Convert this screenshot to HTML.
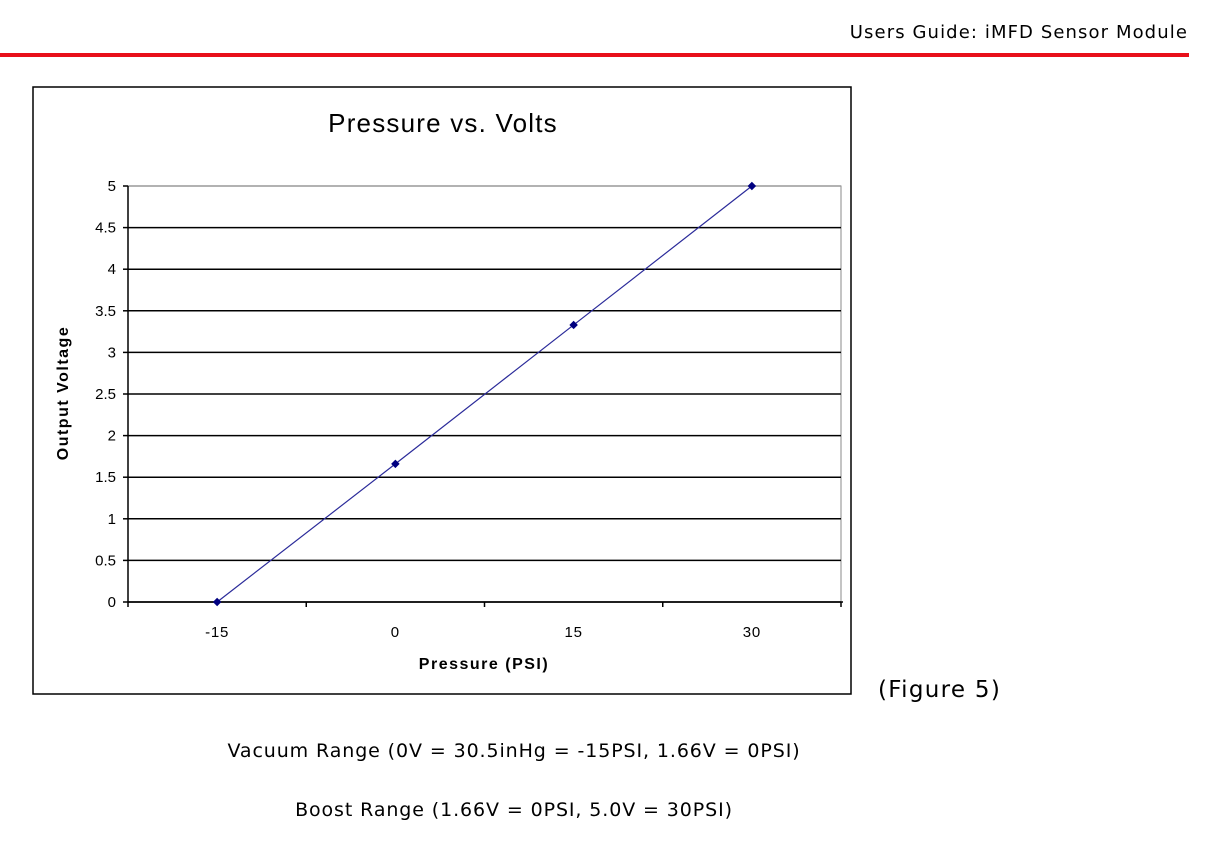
<!DOCTYPE html>
<html><head><meta charset="utf-8">
<style>
body{margin:0;width:1205px;height:845px;background:#fff;position:relative;overflow:hidden;font-family:"DejaVu Sans","Liberation Sans",sans-serif;}
.t{position:absolute;white-space:nowrap;color:#000;}
</style></head>
<body>
<div class="t" style="right:17px;top:22px;font-size:18px;letter-spacing:1.1px;">Users Guide: iMFD Sensor Module</div>
<div style="position:absolute;left:0;top:53px;width:1189px;height:4px;background:#e8101a;"></div>
<svg id="chart" width="1205" height="845" style="position:absolute;left:0;top:0" xmlns="http://www.w3.org/2000/svg" font-family="Liberation Sans, Arial, sans-serif"></svg>
<div class="t" style="left:878px;top:677px;font-size:23px;letter-spacing:1.3px;">(Figure 5)</div>
<div class="t" style="left:0;width:1028px;text-align:center;top:740px;font-size:19px;letter-spacing:0.9px;">Vacuum Range (0V = 30.5inHg = -15PSI, 1.66V = 0PSI)</div>
<div class="t" style="left:0;width:1028px;text-align:center;top:799px;font-size:19px;letter-spacing:0.9px;">Boost Range (1.66V = 0PSI, 5.0V = 30PSI)</div>
<script>
const pressure=[-15,0,15,30];
const voltage=[0,1.66,3.33,5];
const xTickLabels=["-15","0","15","30"];
const yTicks=[0,0.5,1,1.5,2,2.5,3,3.5,4,4.5,5];
const xTicks=[-22.5,-7.5,7.5,22.5,37.5];
const svg=document.getElementById('chart');
const NS="http://www.w3.org/2000/svg";
const L=128,R=841,T=186,B=602,xmin=-22.5,xmax=37.5,ymin=0,ymax=5;
const sx=v=>L+(v-xmin)/(xmax-xmin)*(R-L);
const sy=v=>B-(v-ymin)/(ymax-ymin)*(B-T);
function mk(tag,attrs,name){const e=document.createElementNS(NS,tag);for(const k in attrs)e.setAttribute(k,attrs[k]);


svg.appendChild(e);return e;}
mk('rect',{x:33,y:87,width:818,height:607,fill:'#fff',stroke:'#000','stroke-width':1.5},'chart-frame');
mk('rect',{x:L,y:T,width:R-L,height:B-T,fill:'#fff',stroke:'#888','stroke-width':1},'plot-area');
yTicks.forEach(v=>{
 mk('line',{x1:L,x2:R,y1:sy(v),y2:sy(v),stroke:v===5?'#999':'#000','stroke-width':1.5},'gridline');
 mk('line',{x1:L-5,x2:L,y1:sy(v),y2:sy(v),stroke:'#000','stroke-width':1.5},'y-tick');
 const t=mk('text',{x:L-12,y:sy(v)+5,'text-anchor':'end','font-size':15},'y-tick-label');t.textContent=String(v);
});
mk('line',{x1:L,x2:L,y1:T,y2:B,stroke:'#000','stroke-width':1.5},'y-axis');
mk('line',{x1:L,x2:R+2,y1:B,y2:B,stroke:'#000','stroke-width':1.5},'x-axis');
xTicks.forEach(v=>{mk('line',{x1:sx(v),x2:sx(v),y1:B,y2:B+5,stroke:'#000','stroke-width':1.5},'x-tick');});
pressure.forEach((p,i)=>{const t=mk('text',{x:sx(p),y:B+35,'text-anchor':'middle','font-size':15,'letter-spacing':'0.8'},'x-tick-label');t.textContent=xTickLabels[i];});
let d=pressure.map((p,i)=>(i?'L':'M')+sx(p)+' '+sy(voltage[i])).join(' ');
mk('path',{d:d,fill:'none',stroke:'#2b2b9a','stroke-width':1.2},'series-line');
pressure.forEach((p,i)=>{mk('rect',{x:sx(p)-3,y:sy(voltage[i])-3,width:6,height:6,fill:'#000080',transform:`rotate(45 ${sx(p)} ${sy(voltage[i])})`},'data-point');});
let t=mk('text',{x:443,y:132,'text-anchor':'middle','font-size':26,'letter-spacing':'1.2'},'chart-title');t.textContent='Pressure vs. Volts';
t=mk('text',{x:484,y:669,'text-anchor':'middle','font-size':16,'font-weight':'bold','letter-spacing':'1.5'},'x-axis-title');t.textContent='Pressure (PSI)';
t=mk('text',{x:68,y:393,'text-anchor':'middle','font-size':16,'font-weight':'bold','letter-spacing':'1.5',transform:'rotate(-90 68 393)'},'y-axis-title');t.textContent='Output Voltage';
</script>
</body></html>
